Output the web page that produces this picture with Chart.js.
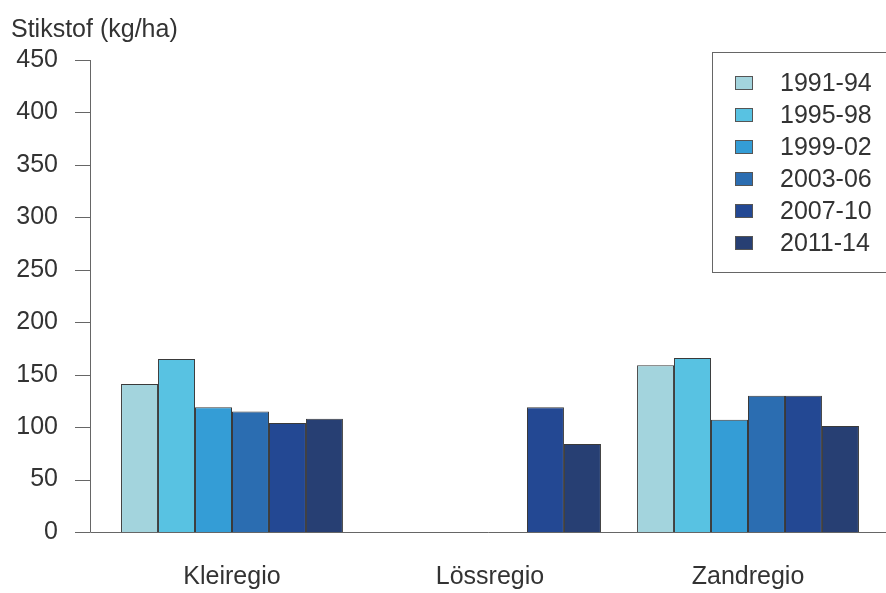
<!DOCTYPE html>
<html>
<head>
<meta charset="utf-8">
<script src="https://cdn.jsdelivr.net/npm/chart.js@4"></script>
<style>
  html, body { margin: 0; padding: 0; background: #fff; }
  #wrap { width: 886px; height: 593px; position: relative; }
</style>
</head>
<body>
<div id="wrap"><canvas id="chart"></canvas></div>
<script>
    "use strict";

    // Data
    var regions = ["Kleiregio", "Lössregio", "Zandregio"];
    var periods = ["1991-94", "1995-98", "1999-02", "2003-06", "2007-10", "2011-14"];
    var n1991 = [141, null, 159];
    var n1995 = [165, null, 166];
    var n1999 = [119, null, 107];
    var n2003 = [115, null, 130];
    var n2007 = [104, 119, 130];
    var n2011 = [108, 84, 101];
    var yTicks = [0, 50, 100, 150, 200, 250, 300, 350, 400, 450];

    var colors = ["#a3d4dd", "#58c2e2", "#349dd6", "#2b6db1", "#234893", "#273f73"];
    var seriesValues = [n1991, n1995, n1999, n2003, n2007, n2011];
    var textColor = "#333";
    var font = "Liberation Sans, Arial, sans-serif";

    // Axis, title and legend drawn by hand
    var decorations = {
        id: "decorations",
        afterDraw: function (chart) {
            var c = chart.ctx;
            var y = chart.scales.y;
            var axisX = 90.5;
            c.save();
            c.strokeStyle = "#666";
            c.lineWidth = 1;
            c.beginPath();
            c.moveTo(axisX, y.getPixelForValue(450));
            c.lineTo(axisX, y.getPixelForValue(0));
            yTicks.forEach(function (t) {
                var py = Math.round(y.getPixelForValue(t)) + 0.5;
                c.moveTo(75, py);
                c.lineTo(axisX, py);
            });
            var by = Math.round(y.getPixelForValue(0)) + 0.5;
            c.moveTo(axisX, by);
            c.lineTo(886, by);
            c.stroke();

            // title
            c.fillStyle = textColor;
            c.font = "25px " + font;
            c.textAlign = "left";
            c.textBaseline = "middle";
            c.fillText("Stikstof (kg/ha)", 11, 30);

            // legend
            c.strokeStyle = "#666";
            c.strokeRect(712.5, 52.5, 180, 220);
            c.font = "25px " + font;
            chart.data.datasets.forEach(function (ds, i) {
                var cy = 83 + i * 32;
                c.fillStyle = ds.backgroundColor;
                c.fillRect(735, cy - 7, 18, 14);
                c.strokeStyle = "#555";
                c.strokeRect(735.5, cy - 6.5, 17, 13);
                c.fillStyle = textColor;
                c.fillText(ds.label, 780, cy + 1);
            });
            c.restore();
        }
    };

    var ctx = document.getElementById("chart").getContext("2d");
    var myChart = new Chart(ctx, {
        type: "bar",
        data: {
            labels: regions,
            datasets: periods.map(function (p, i) {
                return {
                    label: p,
                    data: seriesValues[i],
                    backgroundColor: colors[i],
                    borderColor: "#3a3a3a",
                    borderWidth: 1,
                    categoryPercentage: 0.86,
                    barPercentage: 1.0
                };
            })
        },
        options: {
            responsive: true,
            maintainAspectRatio: false,
            animation: false,
            layout: {
                padding: { top: 53, right: 9, left: 0, bottom: 0 }
            },
            plugins: {
                legend: { display: false },
                tooltip: { enabled: false }
            },
            scales: {
                x: {
                    grid: { display: false, drawTicks: false },
                    border: { display: false },
                    ticks: {
                        color: textColor,
                        padding: 30,
                        font: { size: 25, family: font }
                    },
                    afterFit: function (scale) { scale.height = 61; }
                },
                y: {
                    min: 0,
                    max: 450,
                    grid: { display: false, drawTicks: false },
                    border: { display: false },
                    ticks: {
                        stepSize: 50,
                        color: textColor,
                        padding: 45,
                        font: { size: 25, family: font }
                    },
                    afterFit: function (scale) { scale.width = 103; }
                }
            }
        },
        plugins: [decorations]
    });
</script>
</body>
</html>
